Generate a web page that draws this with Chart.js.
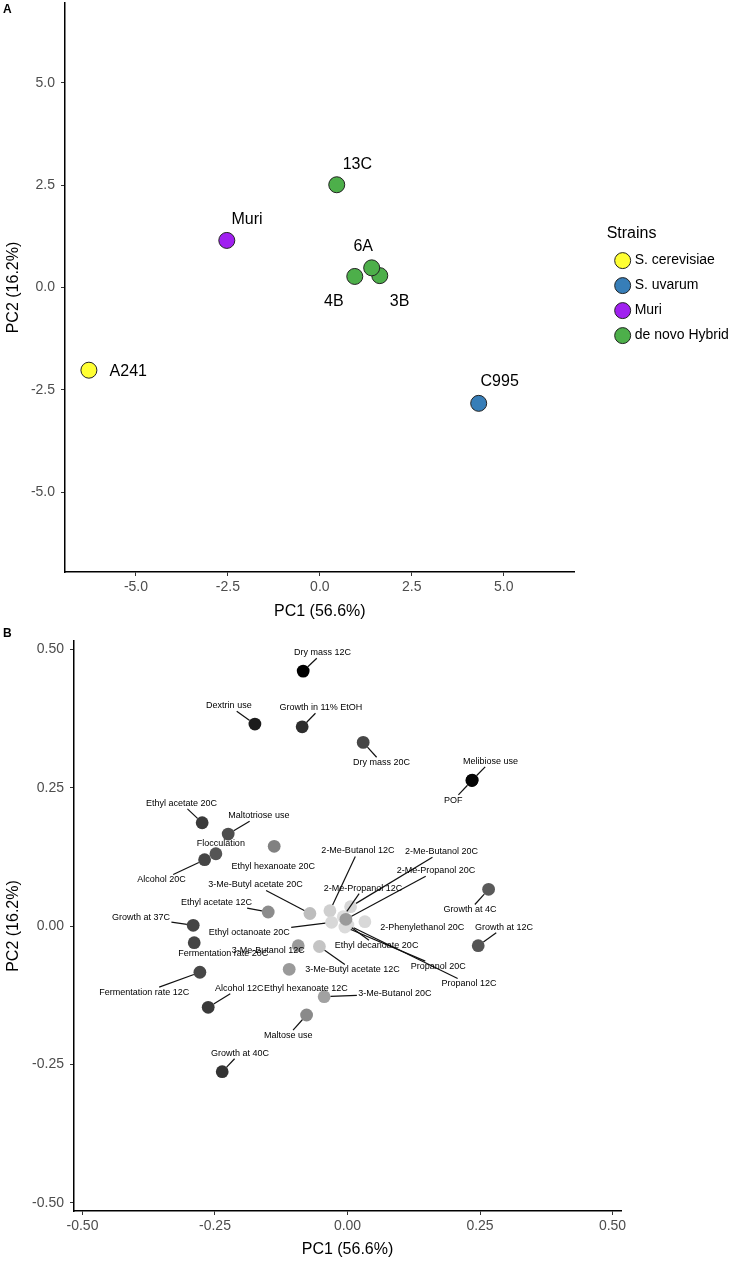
<!DOCTYPE html>
<html><head><meta charset="utf-8">
<script src="https://cdn.jsdelivr.net/npm/chart.js@4/dist/chart.umd.min.js"></script>
<style>
html,body{margin:0;padding:0;background:#fff;}
#wrap{position:relative;width:739px;height:1262px;overflow:hidden;background:#fff;}
canvas{position:absolute;left:0;}
.tag{position:absolute;font:bold 12px "Liberation Sans",Arial,sans-serif;color:#000;}
</style></head><body>
<div id="wrap">
<canvas id="cA" width="739" height="630" style="top:0"></canvas>
<canvas id="cB" width="739" height="632" style="top:630px"></canvas>
<div class="tag" style="left:3px;top:2px">A</div>
<div class="tag" style="left:3px;top:626px">B</div>
</div>
<script>
// ---------- Panel A data ----------
const strainNames  = ['A241','C995','Muri','13C','3B','4B','6A'];
const strainGroups = ['S. cerevisiae','S. uvarum','Muri','de novo Hybrid','de novo Hybrid','de novo Hybrid','de novo Hybrid'];
const strainPC1    = [-6.28, 4.32, -2.53, 0.46, 1.63, 0.95, 1.41];
const strainPC2    = [-2.02, -2.83, 1.15, 2.51, 0.29, 0.27, 0.48];
const groupNames   = ['S. cerevisiae','S. uvarum','Muri','de novo Hybrid'];
const groupColors  = ['#FFFF33','#377EB8','#A020F0','#4DAF4A'];
const ticksAx      = [-5, -2.5, 0, 2.5, 5];
const ticksAy      = [-5, -2.5, 0, 2.5, 5];
// repelled label anchors (data units)
const strainLabelX = [-5.21, 4.89, -1.98, 1.02, 2.17, 0.38, 1.18];
const strainLabelY = [-2.05, -2.29, 1.67, 3.01, -0.34, -0.34, 1.0];

// ---------- Panel B data ----------
const varNames = ['Dry mass 12C','Dextrin use','Growth in 11% EtOH','Dry mass 20C','Melibiose use','POF',
 'Ethyl acetate 20C','Maltotriose use','Flocculation','Alcohol 20C','Ethyl hexanoate 20C','Ethyl acetate 12C',
 'Growth at 37C','Fermentation rate 20C','Fermentation rate 12C','Alcohol 12C','3-Me-Butyl acetate 20C',
 '3-Me-Butanol 12C','3-Me-Butyl acetate 12C','Ethyl hexanoate 12C','3-Me-Butanol 20C','Maltose use',
 'Growth at 40C','Growth at 12C','Growth at 4C','2-Me-Butanol 12C','2-Me-Butanol 20C','2-Me-Propanol 12C',
 'Ethyl octanoate 20C','Ethyl decanoate 20C','2-Phenylethanol 20C','Propanol 20C','Propanol 12C','2-Me-Propanol 20C'];
const loadPC1 = [-0.0836,-0.1747,-0.0855,0.0296,0.2353,0.2347,
 -0.2742,-0.2251,-0.2483,-0.2696,-0.1383,-0.1496,
 -0.2911,-0.2892,-0.2785,-0.2628,-0.0709,
 -0.0930,-0.0530,-0.1100,-0.0440,-0.0772,
 -0.2364,0.2466,0.2662,-0.0332,0.0058,-0.0081,
 -0.0300,-0.0017,0.0328,-0.0049,0.0008,-0.0030];
const loadPC2 = [0.4606,0.3649,0.3600,0.3318,0.2637,0.2628,
 0.1866,0.1662,0.1306,0.1198,0.1440,0.0253,
 0.0013,-0.0302,-0.0836,-0.1469,0.0226,
 -0.0356,-0.0370,-0.0782,-0.1277,-0.1608,
 -0.2632,-0.0356,0.0663,0.0276,0.0349,0.0168,
 0.0067,0.0036,0.0078,-0.0018,0.0018,0.0121];
// contribution (shading) read from the grey level of each point
const contrib = [1.00,0.88,0.80,0.69,0.98,0.98,
 0.75,0.66,0.63,0.70,0.44,0.39,
 0.70,0.70,0.69,0.75,0.18,
 0.33,0.15,0.33,0.30,0.40,
 0.78,0.63,0.61,0.10,0.07,0.04,
 0.06,0.03,0.06,0.05,0.05,0.33];
// repelled label anchors (data units)
const varLabelX = [-0.047,-0.2238,-0.0502,0.0643,0.27,0.1994,
 -0.313,-0.1672,-0.2389,-0.3508,-0.1402,-0.247,
 -0.3898,-0.2345,-0.3836,-0.2043,-0.1734,
 -0.1496,0.0096,-0.0785,0.0894,-0.1119,
 -0.203,0.2951,0.2309,0.0196,0.1775,0.0291,
 -0.1855,0.0549,0.141,0.1711,0.2291,0.1668];
const varLabelY = [0.4937,0.3979,0.3943,0.295,0.2975,0.2271,
 0.2216,0.1992,0.1487,0.0831,0.1071,0.0421,
 0.015,-0.0506,-0.1205,-0.1125,0.0741,
 -0.0452,-0.0795,-0.1125,-0.1228,-0.1982,
 -0.23,-0.0023,0.0289,0.1355,0.1342,0.0686,
 -0.0121,-0.0356,-0.0023,-0.0735,-0.1048,0.0999];
const noLeader = ['Ethyl hexanoate 20C','Fermentation rate 20C','Ethyl hexanoate 12C','3-Me-Butanol 12C','Flocculation','2-Phenylethanol 20C'];
const ticksB = [-0.5, -0.25, 0, 0.25, 0.5];

// ---------- common ----------
const FAM = '"Liberation Sans", Arial, Helvetica, sans-serif';
Chart.defaults.font.family = FAM;
Chart.defaults.color = '#000';

const labelPlugin = {
  id: 'pointLabels',
  afterDatasetsDraw(chart, args, opts) {
    if (!opts.items) return;
    const ctx = chart.ctx, xs = chart.scales.x, ys = chart.scales.y;
    ctx.save();
    ctx.font = opts.font;
    ctx.textAlign = 'center';
    ctx.textBaseline = 'middle';
    ctx.strokeStyle = '#111';
    ctx.lineWidth = 1.2;
    opts.items.forEach(it => {
      const px = xs.getPixelForValue(it.x), py = ys.getPixelForValue(it.y);
      const lx = xs.getPixelForValue(it.lx), ly = ys.getPixelForValue(it.ly);
      if (it.leader) {
        const hw = ctx.measureText(it.text).width / 2 + 1.5, hh = opts.half + 1;
        const dx = px - lx, dy = py - ly;
        const t = Math.min(dx ? hw / Math.abs(dx) : Infinity, dy ? hh / Math.abs(dy) : Infinity);
        if (t < 1) {
          const ex = lx + dx * t, ey = ly + dy * t;
          const len = Math.hypot(px - ex, py - ey);
          if (len > opts.r) {
            const sx = px - (px - ex) / len * opts.r, sy = py - (py - ey) / len * opts.r;
            ctx.beginPath(); ctx.moveTo(sx, sy); ctx.lineTo(ex, ey); ctx.stroke();
          }
        }
      }
    });
    ctx.fillStyle = '#000';
    opts.items.forEach(it => {
      ctx.fillText(it.text, xs.getPixelForValue(it.lx), ys.getPixelForValue(it.ly));
    });
    ctx.restore();
  }
};

function axisCommon(ticks, digits, size) {
  return {
    type: 'linear',
    grid: { display: true, drawOnChartArea: false, drawTicks: true, tickLength: 4, color: '#333', lineWidth: 1 },
    border: { display: true, color: '#000', width: 1.5 },
    ticks: { color: '#4d4d4d', font: { size: size, family: FAM }, autoSkip: false, maxRotation: 0,
             callback: v => Number(v).toFixed(digits) },
    afterBuildTicks: s => { s.ticks = ticks.map(v => ({ value: v })); }
  };
}
function fixX(h) { return s => { s.height = h; s.paddingLeft = 0; s.paddingRight = 0; }; }
function fixY(w) { return s => { s.width = w; s.paddingTop = 0; s.paddingBottom = 0; }; }

// ---------- Chart A ----------
const dsA = groupNames.map((g, gi) => ({
  label: g,
  data: strainNames.map((n, i) => ({ x: strainPC1[i], y: strainPC2[i], g: strainGroups[i] })).filter(p => p.g === g),
  backgroundColor: groupColors[gi],
  borderColor: '#222',
  borderWidth: 1,
  pointRadius: 8,
  pointStyle: 'circle'
}));
const xA = axisCommon(ticksAx, 1, 14);
Object.assign(xA, { position: 'bottom', min: -6.93, max: 6.93,
  title: { display: true, text: 'PC1 (56.6%)', color: '#000', font: { size: 16, family: FAM }, padding: { top: 0, bottom: 8.4 } },
  afterFit: fixX(58) });
xA.ticks.padding = 3;
const yA = axisCommon(ticksAy, 1, 14);
Object.assign(yA, { position: 'left', min: -6.95, max: 6.95,
  title: { display: true, text: 'PC2 (16.2%)', color: '#000', font: { size: 16, family: FAM }, padding: { top: 4.4, bottom: 0 } },
  afterFit: fixY(65) });
yA.ticks.padding = 6;

new Chart(document.getElementById('cA'), {
  type: 'scatter',
  data: { datasets: dsA },
  options: {
    responsive: false, animation: false,
    layout: { autoPadding: false, padding: { top: 3, right: 11, bottom: 0, left: 0 } },
    scales: {
      x: xA, y: yA,
      gap: { type: 'linear', position: 'right', display: true, grid: { display: false }, border: { display: false },
             ticks: { display: false }, afterFit: fixY(32) }
    },
    plugins: {
      tooltip: { enabled: false },
      legend: {
        position: 'right', align: 'center', fullSize: false,
        title: { display: true, text: 'Strains', color: '#000', position: 'start', font: { size: 16, family: FAM }, padding: { top: 4.5, bottom: -2.5 } },
        labels: { usePointStyle: true, pointStyle: 'circle', boxWidth: 10, boxHeight: 11.3, padding: 11, color: '#000', font: { size: 14, family: FAM } }
      },
      pointLabels: {
        font: '16px ' + FAM, half: 8, r: 8,
        items: strainNames.map((n, i) => ({ text: n, x: strainPC1[i], y: strainPC2[i], lx: strainLabelX[i], ly: strainLabelY[i], leader: false }))
      }
    }
  },
  plugins: [labelPlugin]
});

// ---------- Chart B ----------
const greyOf = c => { const g = Math.round(230 * (1 - c)); return `rgb(${g},${g},${g})`; };
const xB = axisCommon(ticksB, 2, 14);
Object.assign(xB, { position: 'bottom', min: -0.516, max: 0.516,
  title: { display: true, text: 'PC1 (56.6%)', color: '#000', font: { size: 16, family: FAM }, padding: { top: 0, bottom: 2.4 } },
  afterFit: fixX(51) });
xB.ticks.padding = 3;
const yB = axisCommon(ticksB, 2, 14);
Object.assign(yB, { position: 'left', min: -0.515, max: 0.515,
  title: { display: true, text: 'PC2 (16.2%)', color: '#000', font: { size: 16, family: FAM }, padding: { top: 4.4, bottom: 0 } },
  afterFit: fixY(74) });
yB.ticks.padding = 6;

new Chart(document.getElementById('cB'), {
  type: 'scatter',
  data: { datasets: [{
    label: 'Variables',
    data: varNames.map((n, i) => ({ x: loadPC1[i], y: loadPC2[i] })),
    backgroundColor: contrib.map(greyOf),
    borderColor: contrib.map(greyOf),
    borderWidth: 0,
    pointRadius: 6.4
  }] },
  options: {
    responsive: false, animation: false,
    layout: { autoPadding: false, padding: { top: 11, right: 118, bottom: 0, left: 0 } },
    scales: { x: xB, y: yB },
    plugins: {
      tooltip: { enabled: false },
      legend: { display: false },
      pointLabels: {
        font: '9px ' + FAM, half: 4.5, r: 6.4,
        items: varNames.map((n, i) => ({ text: n, x: loadPC1[i], y: loadPC2[i], lx: varLabelX[i], ly: varLabelY[i], leader: noLeader.indexOf(n) < 0 }))
      }
    }
  },
  plugins: [labelPlugin]
});
</script>
</body></html>
